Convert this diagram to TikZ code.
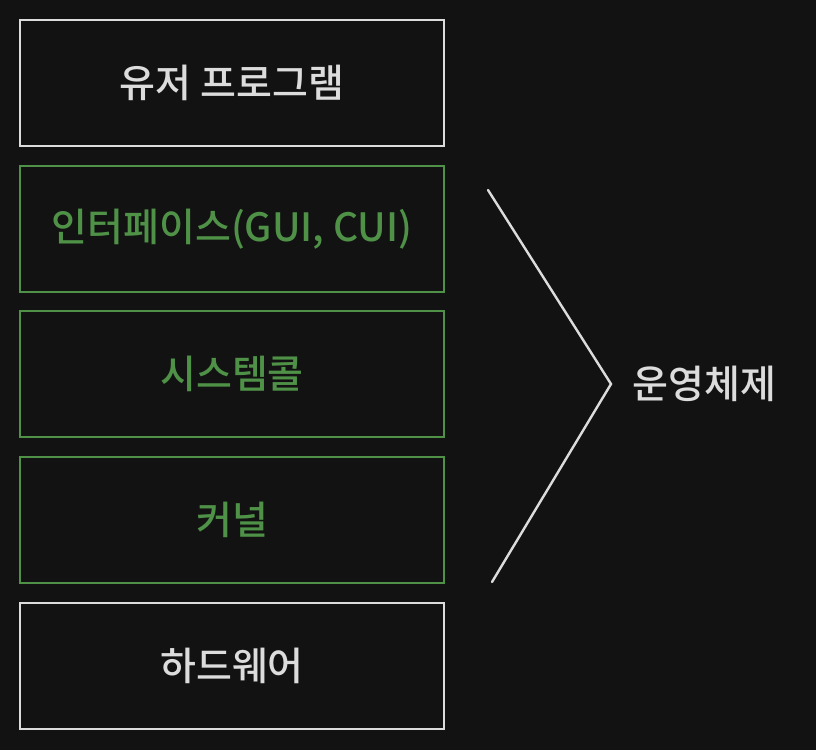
\documentclass[tikz,border=0pt]{standalone}
\usepackage{fontspec}
\setmainfont{Noto Sans CJK KR}[UprightFont=* Medium]
\usetikzlibrary{positioning}

\definecolor{bgdark}{HTML}{121212}
\definecolor{inkwhite}{HTML}{DCDCDC}
\definecolor{inkgreen}{HTML}{4E9147}

\begin{document}
\begin{tikzpicture}[
  x=1pt, y=1pt,
  node distance=20pt,
  layer/.style={draw=inkwhite, text=inkwhite, line width=2.4pt, outer sep=0pt,
    minimum width=424pt, minimum height=126pt, font=\fontsize{39}{46}\selectfont},
  oslayer/.style={layer, draw=inkgreen, text=inkgreen},
  brace/.style={draw=inkwhite, line width=2.4pt, line cap=round, line join=miter}
]
\fill[bgdark] (0,0) rectangle (816,-750);
\useasboundingbox (0,0) rectangle (816,-750);

\node[layer] (user) at (232,-83) {유저 프로그램};
\node[oslayer, below=of user] (iface) {인터페이스(GUI, CUI)};
\node[oslayer, below=19pt of iface] (syscall) {시스템콜};
\node[oslayer, below=of syscall] (kernel) {커널};
\node[layer, below=of kernel] (hw) {하드웨어};

% chevron grouping the os layers
\coordinate (ctop) at (488,-190);
\coordinate (ctip) at (611,-384);
\coordinate (cbot) at (492,-582);
\draw[brace] (ctop) -- (ctip) -- (cbot);
\node[text=inkwhite, font=\fontsize{39}{46}\selectfont, right=18pt of ctip] (os) {운영체제};
\end{tikzpicture}
\end{document}
